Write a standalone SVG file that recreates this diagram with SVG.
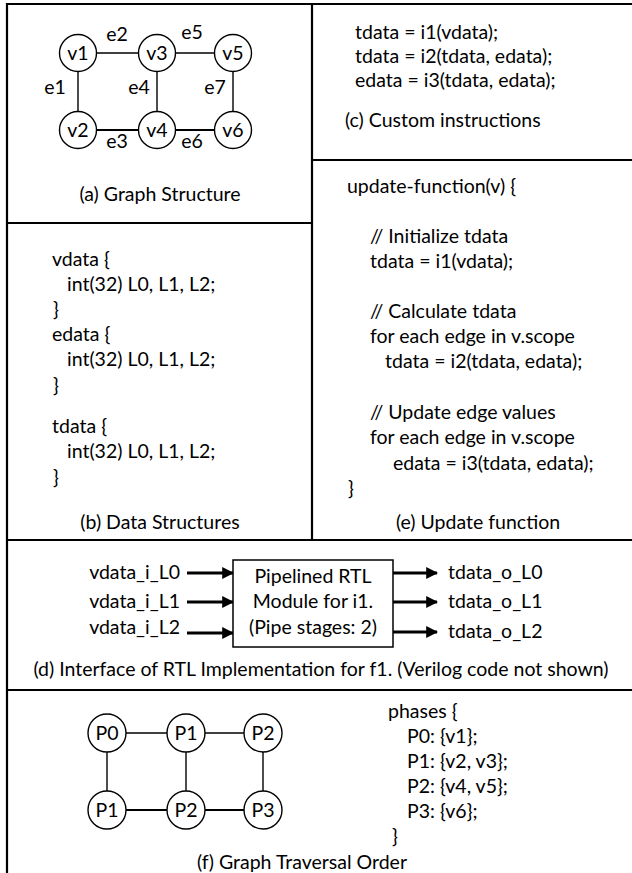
<svg xmlns="http://www.w3.org/2000/svg" width="632" height="873" viewBox="0 0 632 873">
<defs>
<style>
text{font-family:Lato,"Liberation Sans",sans-serif;font-size:19.5px;fill:#000}
.c{text-anchor:middle}
.r{text-anchor:end}
.frame{fill:none;stroke:#000;stroke-width:2.2}
.n{fill:#fff;stroke:#000;stroke-width:1.4}
.e{stroke:#000;stroke-width:1.4;fill:none}
.eb{stroke:#000;stroke-width:2.2;fill:none}
.a{stroke:#000;stroke-width:3;fill:none;marker-end:url(#ah)}
</style>
<marker id="ah" viewBox="0 0 10 10" refX="9" refY="5" markerWidth="12" markerHeight="12" orient="auto" markerUnits="userSpaceOnUse">
<path d="M0,0 L10,5 L0,10 z" fill="#000"/>
</marker>
</defs>
<rect width="632" height="873" fill="#fff"/>
<g id="frame">
<path class="frame" d="M7,873 V4 H632"/>
<path class="frame" d="M312,4 V540"/>
<path class="frame" d="M7,223 H312"/>
<path class="frame" d="M312,160 H632"/>
<path class="frame" d="M7,540 H632"/>
<path class="frame" d="M7,690 H632"/>
</g>
<g id="connectors">
<line class="e" x1="96" y1="53" x2="139" y2="53"/>
<line class="e" x1="175" y1="53" x2="215" y2="53"/>
<line class="e" x1="78" y1="71" x2="78" y2="112"/>
<line class="e" x1="157" y1="71" x2="157" y2="112"/>
<line class="e" x1="233" y1="71" x2="233" y2="112"/>
<line class="eb" x1="96" y1="130" x2="139" y2="130"/>
<line class="eb" x1="175" y1="130" x2="215" y2="130"/>
<line class="e" x1="126" y1="733" x2="167" y2="733"/>
<line class="e" x1="205" y1="733" x2="244" y2="733"/>
<line class="e" x1="107" y1="752" x2="107" y2="791"/>
<line class="e" x1="186" y1="752" x2="186" y2="791"/>
<line class="e" x1="263" y1="752" x2="263" y2="791"/>
<line class="eb" x1="126" y1="810" x2="167" y2="810"/>
<line class="eb" x1="205" y1="810" x2="244" y2="810"/>
<line class="a" x1="187" y1="573" x2="233" y2="573"/>
<line class="a" x1="187" y1="602" x2="233" y2="602"/>
<line class="a" x1="187" y1="633" x2="233" y2="633"/>
<line class="a" x1="393" y1="573" x2="437" y2="573"/>
<line class="a" x1="393" y1="602" x2="437" y2="602"/>
<line class="a" x1="393" y1="632" x2="437" y2="632"/>
</g>
<g id="v1"><circle class="n" cx="78" cy="53" r="18.5"/><text class="c" x="78" y="60">v1</text></g>
<g id="v3"><circle class="n" cx="157" cy="53" r="18.5"/><text class="c" x="157" y="60">v3</text></g>
<g id="v5"><circle class="n" cx="233" cy="53" r="18.5"/><text class="c" x="233" y="60">v5</text></g>
<g id="v2"><circle class="n" cx="78" cy="130" r="18.5"/><text class="c" x="78" y="137">v2</text></g>
<g id="v4"><circle class="n" cx="157" cy="130" r="18.5"/><text class="c" x="157" y="137">v4</text></g>
<g id="v6"><circle class="n" cx="233" cy="130" r="18.5"/><text class="c" x="233" y="137">v6</text></g>
<g id="edge-labels">
<text class="c" x="117" y="41">e2</text>
<text class="c" x="192" y="39">e5</text>
<text class="c" x="55" y="94">e1</text>
<text class="c" x="139" y="94">e4</text>
<text class="c" x="215" y="94">e7</text>
<text class="c" x="117" y="148">e3</text>
<text class="c" x="192" y="148">e6</text>
</g>
<g id="caption-a"><text class="c" x="160" y="201">(a) Graph Structure</text></g>
<g id="panel-c">
<text x="355" y="39">tdata = i1(vdata);</text>
<text x="355" y="63">tdata = i2(tdata, edata);</text>
<text x="355" y="87">edata = i3(tdata, edata);</text>
<text x="345" y="127">(c) Custom instructions</text>
</g>
<g id="panel-b">
<text x="52" y="266">vdata {</text>
<text x="67" y="291">int(32) L0, L1, L2;</text>
<text x="53" y="316">}</text>
<text x="52" y="341">edata {</text>
<text x="67" y="366">int(32) L0, L1, L2;</text>
<text x="53" y="392">}</text>
<text x="52" y="433">tdata {</text>
<text x="67" y="458">int(32) L0, L1, L2;</text>
<text x="53" y="484">}</text>
<text class="c" x="160" y="529">(b) Data Structures</text>
</g>
<g id="panel-e">
<text x="347" y="193">update-function(v) {</text>
<text x="370" y="243">// Initialize tdata</text>
<text x="370" y="268">tdata = i1(vdata);</text>
<text x="370" y="318">// Calculate tdata</text>
<text x="370" y="343">for each edge in v.scope</text>
<text x="385" y="368">tdata = i2(tdata, edata);</text>
<text x="370" y="419">// Update edge values</text>
<text x="370" y="444">for each edge in v.scope</text>
<text x="393" y="470">edata = i3(tdata, edata);</text>
<text x="348" y="495">}</text>
<text class="c" x="478" y="529">(e) Update function</text>
</g>
<g id="rtl-module">
<rect x="233" y="560" width="160" height="87" fill="#fff" stroke="#000" stroke-width="1.5"/>
<text class="c" x="313" y="583">Pipelined RTL</text>
<text class="c" x="313" y="608">Module for i1.</text>
<text class="c" x="313" y="634">(Pipe stages: 2)</text>
</g>
<g id="rtl-ports">
<text class="r" x="180" y="579">vdata_i_L0</text>
<text class="r" x="180" y="608">vdata_i_L1</text>
<text class="r" x="180" y="634">vdata_i_L2</text>
<text x="448" y="579">tdata_o_L0</text>
<text x="448" y="608">tdata_o_L1</text>
<text x="448" y="638">tdata_o_L2</text>
</g>
<g id="caption-d"><text class="c" x="321" y="676">(d) Interface of RTL Implementation for f1. (Verilog code not shown)</text></g>
<g id="P0"><circle class="n" cx="107" cy="733" r="19"/><text class="c" x="107" y="740">P0</text></g>
<g id="P1a"><circle class="n" cx="186" cy="733" r="19"/><text class="c" x="186" y="740">P1</text></g>
<g id="P2a"><circle class="n" cx="263" cy="733" r="19"/><text class="c" x="263" y="740">P2</text></g>
<g id="P1b"><circle class="n" cx="107" cy="810" r="19"/><text class="c" x="107" y="817">P1</text></g>
<g id="P2b"><circle class="n" cx="186" cy="810" r="19"/><text class="c" x="186" y="817">P2</text></g>
<g id="P3"><circle class="n" cx="263" cy="810" r="19"/><text class="c" x="263" y="817">P3</text></g>
<g id="phases">
<text x="388" y="718">phases {</text>
<text x="407" y="743">P0: {v1};</text>
<text x="407" y="768">P1: {v2, v3};</text>
<text x="407" y="793">P2: {v4, v5};</text>
<text x="407" y="818">P3: {v6};</text>
<text x="392" y="843">}</text>
<text class="c" x="302" y="869">(f) Graph Traversal Order</text>
</g>
</svg>
